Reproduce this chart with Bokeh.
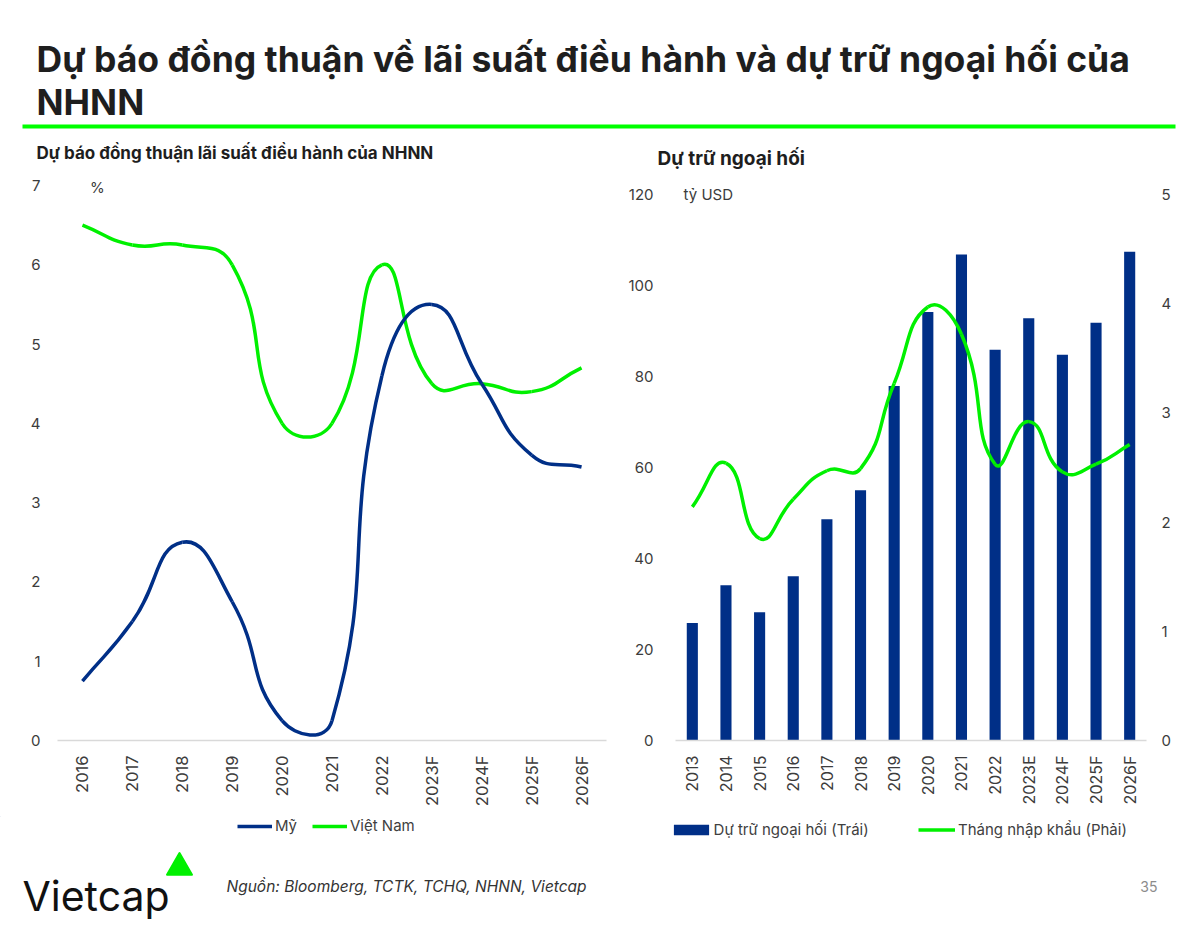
import math
from bokeh.plotting import figure
from bokeh.models import Range1d, LinearAxis, FixedTicker, Legend, LegendItem, Label
from bokeh.layouts import column, row
from bokeh.embed import file_html
from bokeh.resources import INLINE
from bokeh.core.properties import value

# ---------------- data ----------------
title_line1 = "Dự báo đồng thuận về lãi suất điều hành và dự trữ ngoại hối của"
title_line2 = "NHNN"
sub_left = "Dự báo đồng thuận lãi suất điều hành của NHNN"
sub_right = "Dự trữ ngoại hối"
source_text = "Nguồn: Bloomberg, TCTK,  TCHQ, NHNN, Vietcap"
page_no = "35"

rate_years = ["2016", "2017", "2018", "2019", "2020", "2021", "2022",
              "2023F", "2024F", "2025F", "2026F"]
rate_us = [0.75, 1.5, 2.5, 1.75, 0.25, 0.25, 4.6, 5.5, 4.5, 3.6, 3.45]
rate_vn = [6.5, 6.25, 6.25, 6.0, 4.0, 4.0, 6.0, 4.5, 4.5, 4.4, 4.7]
rate_ticks = [0, 1, 2, 3, 4, 5, 6, 7]

fx_years = ["2013", "2014", "2015", "2016", "2017", "2018", "2019", "2020",
            "2021", "2022", "2023E", "2024F", "2025F", "2026F"]
fx_reserves = [25.8, 34.1, 28.2, 36.1, 48.6, 55.0, 77.9, 94.2, 106.8, 85.9,
               92.8, 84.8, 91.8, 107.4]
import_months = [2.14, 2.54, 1.85, 2.21, 2.47, 2.49, 3.27, 3.97, 3.72, 2.53,
                 2.92, 2.46, 2.53, 2.71]
fx_left_ticks = [0, 20, 40, 60, 80, 100, 120]
fx_right_ticks = [0, 1, 2, 3, 4, 5]

# ---------------- style ----------------
NAVY = "#002F87"
GREEN = "#00F000"
LINE_GREEN = "#00FF00"
TXT = "#1E1E1E"
TICK = "#3C3C3C"
FONT = "Inter"


def smooth(xs, ys, sx, sy, t=0.5):
    """Excel-like smoothed line: cubic Bezier control points (chord weighted)."""
    n = len(xs)
    P = [(x * sx, y * sy) for x, y in zip(xs, ys)]
    out = dict(x0=[], y0=[], x1=[], y1=[], cx0=[], cy0=[], cx1=[], cy1=[])
    for i in range(n - 1):
        p0 = P[i - 1] if i > 0 else P[i]
        p1, p2 = P[i], P[i + 1]
        p3 = P[i + 2] if i + 2 < n else P[i + 1]
        d01 = math.dist(p0, p1)
        d12 = math.dist(p1, p2)
        d23 = math.dist(p2, p3)
        f1 = t * d12 / (d01 + d12) if d01 + d12 > 0 else 0
        f2 = t * d12 / (d12 + d23) if d12 + d23 > 0 else 0
        c1 = (p1[0] + f1 * (p2[0] - p0[0]), p1[1] + f1 * (p2[1] - p0[1]))
        c2 = (p2[0] - f2 * (p3[0] - p1[0]), p2[1] - f2 * (p3[1] - p1[1]))
        out["x0"].append(p1[0] / sx); out["y0"].append(p1[1] / sy)
        out["x1"].append(p2[0] / sx); out["y1"].append(p2[1] / sy)
        out["cx0"].append(c1[0] / sx); out["cy0"].append(c1[1] / sy)
        out["cx1"].append(c2[0] / sx); out["cy1"].append(c2[1] / sy)
    return out


def base_fig(w, h, **kw):
    p = figure(width=w, height=h, output_backend="svg", toolbar_location=None, **kw)
    p.outline_line_color = None
    p.background_fill_color = "white"
    p.border_fill_color = "white"
    return p


def style_axes(p, nx, labels, xsize, standoff):
    p.xgrid.visible = False
    p.ygrid.visible = False
    xa = p.xaxis[0]
    xa.ticker = FixedTicker(ticks=list(range(nx)))
    xa.major_label_overrides = {i: lab for i, lab in enumerate(labels)}
    xa.major_label_orientation = math.pi / 2
    xa.axis_line_color = "#D9D9D9"
    xa.axis_line_width = 1.5
    xa.major_tick_line_color = None
    xa.minor_tick_line_color = None
    xa.major_tick_in = 0
    xa.major_tick_out = 0
    xa.major_label_standoff = standoff
    xa.major_label_text_font = FONT
    xa.major_label_text_font_size = xsize
    xa.major_label_text_color = TICK


def style_yaxis(ax, ticks, standoff):
    ax.ticker = FixedTicker(ticks=ticks)
    ax.axis_line_color = None
    ax.major_tick_line_color = None
    ax.minor_tick_line_color = None
    ax.major_tick_in = 0
    ax.major_tick_out = 0
    ax.major_label_standoff = standoff
    ax.major_label_text_font = FONT
    ax.major_label_text_font_size = "15px"
    ax.major_label_text_color = TICK


def legend_one(renderer, label, x, y, gw, gh, standoff):
    return Legend(items=[LegendItem(label=label, renderers=[renderer], index=0)],
                  location=(x, y), orientation="horizontal", padding=0, margin=0,
                  border_line_color=None, background_fill_alpha=0,
                  glyph_width=gw, glyph_height=gh, label_height=gh,
                  label_standoff=standoff, label_text_font=FONT,
                  label_text_font_size="15px", label_text_color="#404040")


W = 1196
TOP_CH = 172      # chart row top
BOT_CH = 816      # chart row bottom
FOOT_BOT = 925

# ---------------- header ----------------
header = base_fig(W, TOP_CH, x_range=Range1d(0, W), y_range=Range1d(TOP_CH, 0),
                  x_axis_type=None, y_axis_type=None, min_border=0)
header.xgrid.visible = False
header.ygrid.visible = False
header.text(x=[36, 36], y=[59, 102], text=[title_line1, title_line2],
            text_font=value(FONT), text_font_size="35.5px", text_font_style="bold",
            text_color=TXT, text_baseline="alphabetic", text_align="left")
header.segment(x0=[22], y0=[126], x1=[1175], y1=[126], line_color=LINE_GREEN, line_width=4)
header.text(x=[36], y=[152], text=[sub_left], text_font=value(FONT),
            text_font_size="17px", text_font_style="bold", text_color=TXT,
            text_baseline="alphabetic")
header.text(x=[657], y=[158], text=[sub_right], text_font=value(FONT),
            text_font_size="19px", text_font_style="bold", text_color=TXT,
            text_baseline="alphabetic")

CH_H = BOT_CH - TOP_CH

# ---------------- left chart ----------------
nL = len(rate_years)
L_PX = (740 - 185) / 7.0          # px per % unit
L_TOP = 180
left = base_fig(620, CH_H, x_range=Range1d(-0.5, nL - 0.5),
                y_range=Range1d(0, (740 - L_TOP) / L_PX),
                min_border_left=57, min_border_right=14, min_border_top=L_TOP - TOP_CH,
                min_border_bottom=BOT_CH - 740)
style_axes(left, nL, rate_years, "16.5px", 15)
style_yaxis(left.yaxis[0], rate_ticks, 17)

xs = list(range(nL))
bz_us = smooth(xs, rate_us, 49.9, L_PX)
bz_vn = smooth(xs, rate_vn, 49.9, L_PX)
left.bezier(source=bz_vn, x0="x0", y0="y0", x1="x1", y1="y1", cx0="cx0", cy0="cy0",
            cx1="cx1", cy1="cy1", line_color=GREEN, line_width=3.5)
left.bezier(source=bz_us, x0="x0", y0="y0", x1="x1", y1="y1", cx0="cx0", cy0="cy0",
            cx1="cx1", cy1="cy1", line_color=NAVY, line_width=3.5)
left.add_layout(Label(x=0.3, y=7, y_offset=-1.5, text="%", text_align="center",
                      text_baseline="middle", text_font=FONT, text_font_size="15px",
                      text_color=TICK))

# ---------------- right chart ----------------
nR = len(fx_years)
R_PX = (740 - 194) / 120.0
R_TOP = 180
r_end = (740 - R_TOP) / R_PX
right = base_fig(576, CH_H, x_range=Range1d(-0.5, nR - 0.5), y_range=Range1d(0, r_end),
                 min_border_left=55, min_border_right=50, min_border_top=R_TOP - TOP_CH,
                 min_border_bottom=BOT_CH - 740)
right.extra_y_ranges = {"months": Range1d(0, r_end / 24.0)}
style_axes(right, nR, fx_years, "16px", 15)
style_yaxis(right.yaxis[0], fx_left_ticks, 22)
rax = LinearAxis(y_range_name="months")
style_yaxis(rax, fx_right_ticks, 15)
right.add_layout(rax, "right")

xr = list(range(nR))
right.vbar(x=xr, top=fx_reserves, width=0.33, fill_color=NAVY, line_color=None)
bz_m = smooth(xr, import_months, 33.64, R_PX * 24.0)
right.bezier(source=bz_m, x0="x0", y0="y0", x1="x1", y1="y1", cx0="cx0", cy0="cy0",
             cx1="cx1", cy1="cy1", line_color=GREEN, line_width=3.5, y_range_name="months")
right.add_layout(Label(x=-0.26, y=120, text="tỷ USD", text_align="left", text_baseline="middle",
                       text_font=FONT, text_font_size="15px", text_color=TICK))

# ---------------- footer (legends + branding) ----------------
FOOT_H = FOOT_BOT - BOT_CH
footer = base_fig(W, FOOT_H, x_range=Range1d(0, W), y_range=Range1d(FOOT_BOT, BOT_CH),
                  x_axis_type=None, y_axis_type=None, min_border=0)
footer.xgrid.visible = False
footer.ygrid.visible = False
# legend proxies (placed outside the visible range, only their legend glyphs show)
OFF = [-5000, -4999]
lg_us = footer.line(x=OFF, y=OFF, line_color=NAVY, line_width=3.5)
lg_vn = footer.line(x=OFF, y=OFF, line_color=GREEN, line_width=3.5)
lg_bar = footer.vbar(x=OFF[:1], top=OFF[:1], width=1, fill_color=NAVY, line_color=None)
lg_m = footer.line(x=OFF, y=OFF, line_color=GREEN, line_width=3.5)
footer.add_layout(legend_one(lg_us, "Mỹ", 237, FOOT_BOT - 835, 35, 14, 3))
footer.add_layout(legend_one(lg_vn, "Việt Nam", 312, FOOT_BOT - 835, 35, 14, 3))
footer.add_layout(legend_one(lg_bar, "Dự trữ ngoại hối (Trái)", 668.6, FOOT_BOT - 838.5, 44, 13, 1))
footer.add_layout(legend_one(lg_m, "Tháng nhập khẩu (Phải)", 918, FOOT_BOT - 838.5, 37, 13, 3))

footer.text(x=[22], y=[895], text=["Vietcap"], text_font=value(FONT), text_font_size="41px",
            text_color="#111111", text_baseline="alphabetic")
footer.scatter(x=[179], y=[867], marker="triangle", size=25, fill_color=GREEN,
               line_color=GREEN, line_join="round", line_width=2)
footer.text(x=[226], y=[886], text=[source_text], text_font=value(FONT), text_font_size="15.5px",
            text_font_style="italic", text_color="#333333", text_baseline="middle")
footer.text(x=[1157], y=[886], text=[page_no], text_font=value(FONT), text_font_size="14px",
            text_color="#8C8C8C", text_baseline="middle", text_align="right")

layout = column(header, row(left, right, spacing=0), footer, spacing=0)
open("out.html", "w").write(file_html(layout, INLINE))
